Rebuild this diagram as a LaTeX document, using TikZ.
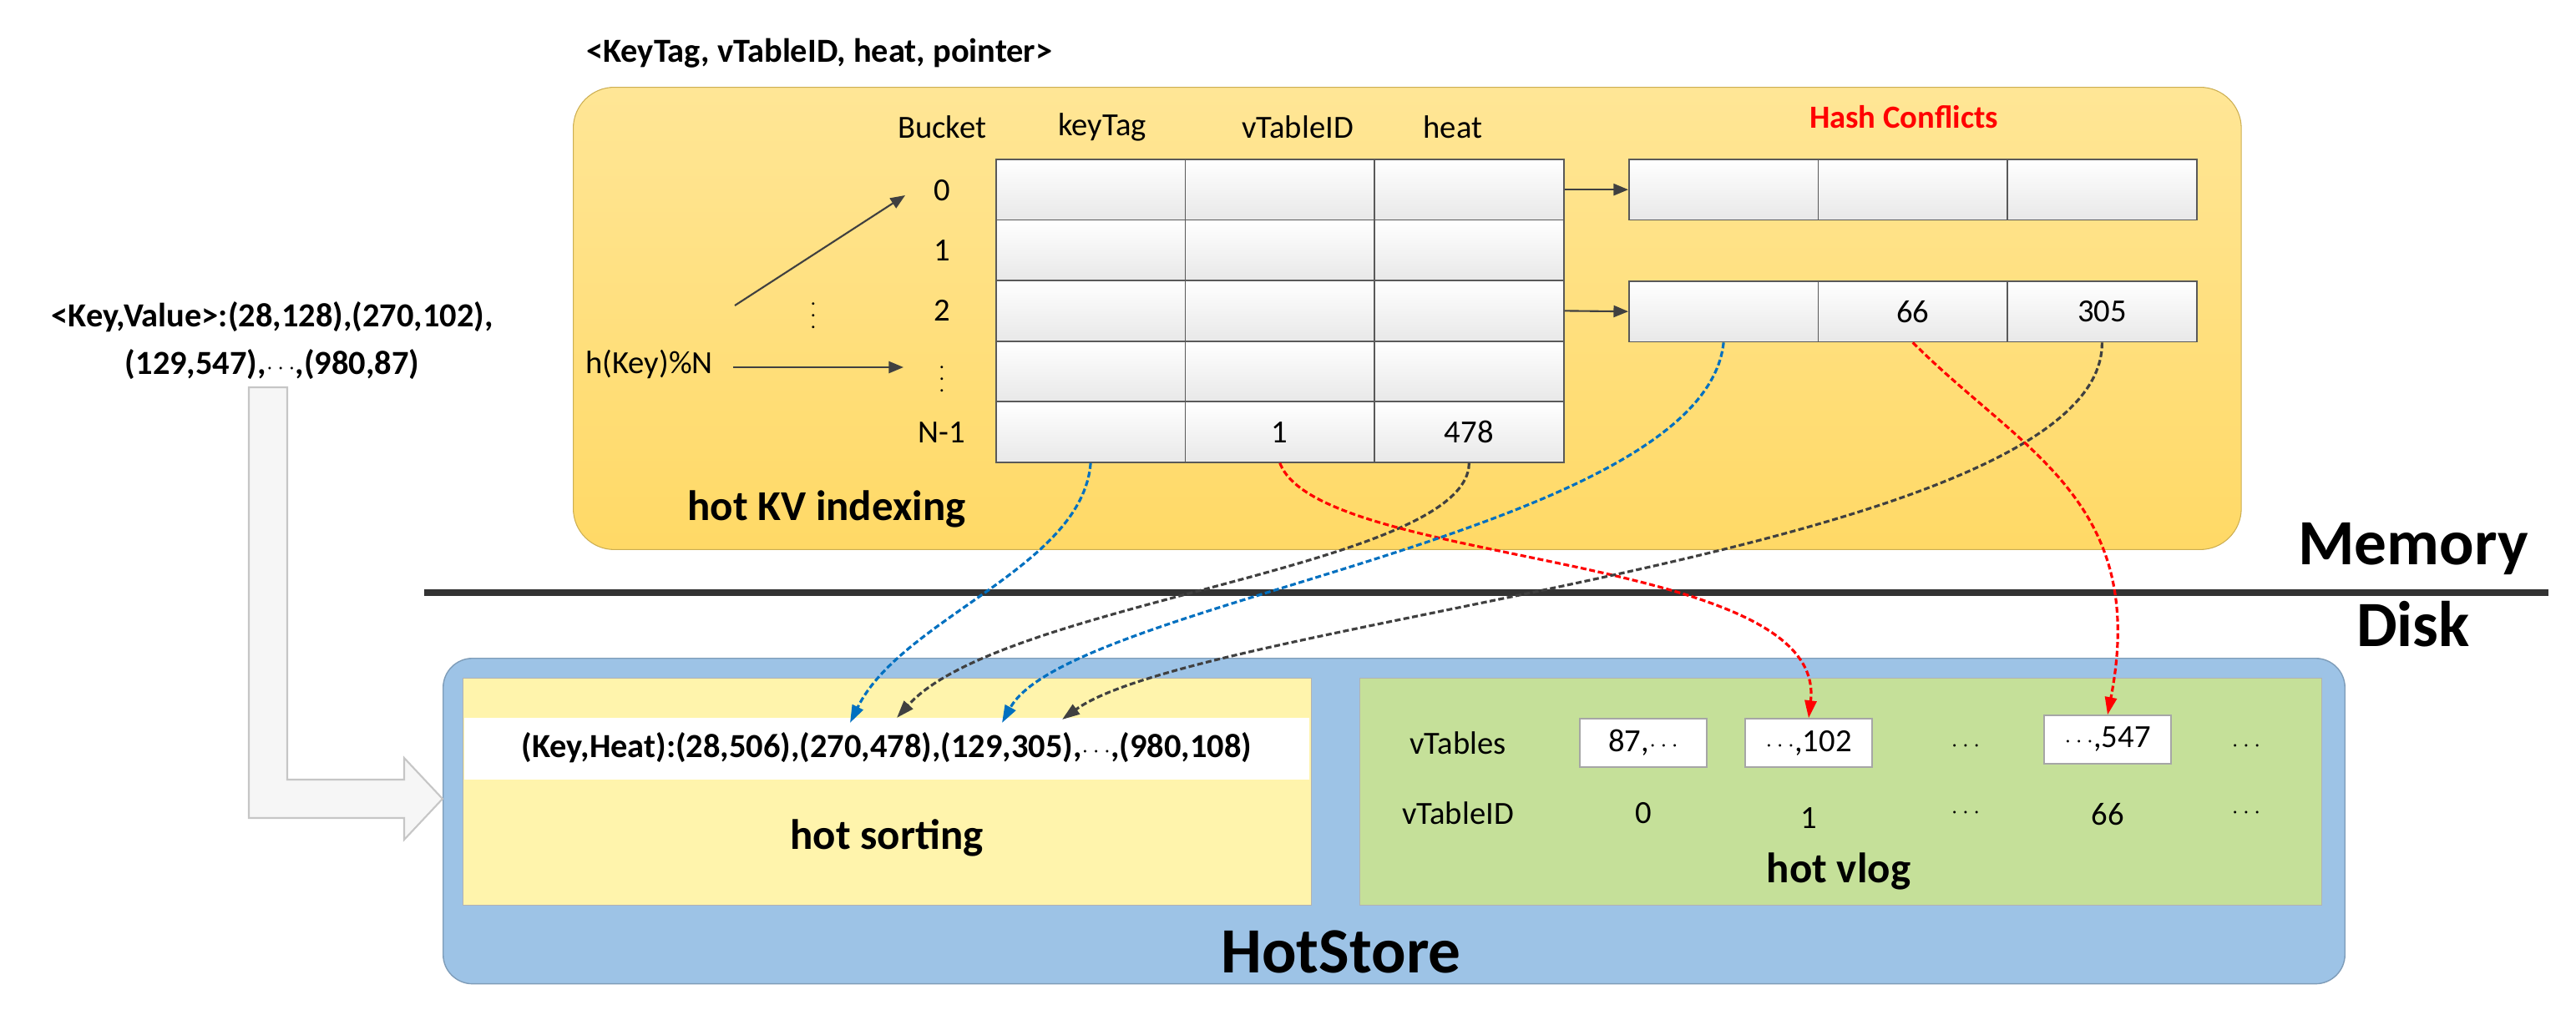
\documentclass[tikz,border=0pt]{standalone}
\usepackage{fontspec}
\setmainfont{Carlito}
\usetikzlibrary{arrows.meta}
\definecolor{yel}{RGB}{255,217,102}
\definecolor{yeltop}{RGB}{255,230,150}
\definecolor{blu}{RGB}{157,195,230}
\definecolor{lyel}{RGB}{255,244,172}
\definecolor{grn}{RGB}{197,224,153}
\definecolor{dblue}{RGB}{0,112,192}
\definecolor{dgray}{RGB}{64,64,64}
\newcommand\mycds{{\fontsize{8}{8}\selectfont$\cdots$}}
\newcommand\myvds{{\fontsize{7}{7}\selectfont$\vdots$}}
\begin{document}
\begin{tikzpicture}[x=0.02cm,y=-0.02cm,
  sm/.style={font=\fontsize{11}{13}\selectfont},
  smb/.style={font=\fontsize{11.5}{14}\selectfont\bfseries},
  big/.style={font=\fontsize{14.5}{17}\selectfont\bfseries},
  huge/.style={font=\fontsize{22}{26}\selectfont\bfseries},
  cell/.style={draw=gray!70!black,line width=0.5pt,top color=white,bottom color=gray!18,minimum width=2.266cm,minimum height=0.726cm,inner sep=0pt,anchor=north west,sm},
  vbox/.style={draw=gray!70,fill=white,minimum width=1.52cm,minimum height=0.58cm,inner sep=0pt,sm},
  arr/.style={-{Triangle[length=5pt,width=4pt]},line width=0.6pt,draw=black!75},
  dsh/.style={-{Triangle[length=6pt,width=4pt]},line width=0.9pt,dash pattern=on 2pt off 1pt}]
\useasboundingbox (0,0) rectangle (1542.5,613.5);
% memory area
\node[smb,anchor=west] (title) at (345,32) {<KeyTag, vTableID, heat, pointer>};
\node[draw=yel!80!black,line width=0.3pt,rounded corners=14pt,top color=yeltop,bottom color=yel,minimum width=19.98cm,minimum height=5.54cm,anchor=north west] (mem) at (343,52) {};
\node[big] (kvlab) at (495,305) {hot KV indexing};
\node[sm] (hB) at (564,76) {Bucket};
\node[sm] (hK) at (660,76) {keyTag};
\node[sm] (hV) at (777,76) {vTableID};
\node[sm] (hH) at (870,76) {heat};
\node[font=\fontsize{11}{13}\selectfont\bfseries,text=red] (hc) at (1140,70) {Hash Conflicts};
\foreach \r in {0,...,4}{
  \foreach \c in {0,1,2}{
    \node[cell] (t-\r-\c) at ({596+113.3*\c},{95+36.3*\r}) {};
  }
}
\node[sm] at (t-4-1) {1};
\node[sm] at (t-4-2) {478};
\node[sm] (b0) at (564,114) {0};
\node[sm] (b1) at (564,150) {1};
\node[sm] (b2) at (564,186) {2};
\node[inner sep=0pt] (b3) at (564,222) {\myvds};
\node[sm] (b4) at (564,259) {N-1};
\node[inner sep=0pt] (vd) at (487,184) {\myvds};
\node[sm,anchor=east] (hk) at (433,218) {h(Key)\%N};
\coordinate (src) at (440,183);
\draw[arr] (src) -- (542,117);
\draw[arr] (hk.east) ++(6,2) -- (541,220);
\foreach \r/\y in {0/95,2/168}{
  \foreach \c in {0,1,2}{
    \node[cell] (h\r-\c) at ({975+113.3*\c},\y) {};
  }
  \draw[arr] (t-\r-2.east) -- (h\r-0.west);
}
\node[sm] at (h2-1) {66};
\node[sm] at (h2-2) {305};
% key value text
\node[smb,align=center] (kv) at (163,204) {<Key,Value>:(28,128),(270,102),\\[2pt](129,547),\mycds,(980,87)};
% divider
\draw[line width=2pt,draw=black!80] (254,355) -- (1526,355);
\node[huge] (memt) at (1445,329) {Memory};
\node[huge] (disk) at (1445,374) {Disk};
% hotstore
\node[draw=blu!80!black,line width=0.4pt,rounded corners=10pt,fill=blu,minimum width=22.78cm,minimum height=3.9cm,anchor=north west] (hs) at (265,394) {};
\node[huge] (hst) at (803,570) {HotStore};
\node[draw=gray!60,fill=lyel,minimum width=10.16cm,minimum height=2.72cm,anchor=north west,inner sep=0pt] (sortb) at (277,406) {};
\fill[white] (278,430) rectangle (784,467);
\node[smb] (kh) at (531,448) {(Key,Heat):(28,506),(270,478),(129,305),\mycds,(980,108)};
\node[big] (sortl) at (531,502) {hot sorting};
\node[draw=gray!60,fill=grn,minimum width=11.52cm,minimum height=2.72cm,anchor=north west,inner sep=0pt] (vlogb) at (814,406) {};
\node[big] (vlogl) at (1101,522) {hot vlog};
\node[sm] (vt) at (873,445) {vTables};
\node[sm] (vid) at (873,487) {vTableID};
\node[vbox] (v0) at (984,445) {87,\mycds};
\node[vbox] (v1) at (1083,445) {\mycds,102};
\node[sm] (vd1) at (1177,447) {\mycds};
\node[vbox] (v66) at (1262,443) {\mycds,547};
\node[sm] (vd2) at (1345,447) {\mycds};
\node[sm] (i0) at (984,487) {0};
\node[sm] (i1) at (1083,490) {1};
\node[sm] (i2) at (1177,487) {\mycds};
\node[sm] (i66) at (1262,488) {66};
\node[sm] (i3) at (1345,487) {\mycds};
% big gray arrow
\draw[draw=gray!45,fill=gray!7,line width=0.6pt] (149,232) -- (172,232) -- (172,467) -- (242,467) -- (242,454) -- (265,478.5) -- (242,503) -- (242,490) -- (149,490) -- cycle;
% dashed connectors
\coordinate (k28) at (509,433);
\coordinate (k270) at (537,430);
\coordinate (k129) at (600,433);
\coordinate (k305) at (636,431);
\draw[dsh,dblue] (t-4-0.south) .. controls (648,340) and (540,370) .. (k28);
\draw[dsh,dgray] (t-4-2.south) .. controls (879,340) and (600,360) .. (k270);
\draw[dsh,red] (t-4-1.south) .. controls (790,340) and (1095,330) .. (v1.north);
\draw[dsh,dblue] (h2-0.south) .. controls (1020,320) and (640,360) .. (k129);
\draw[dsh,dgray] (h2-2.south) .. controls (1260,330) and (720,370) .. (k305);
\draw[dsh,red] (h2-1.south) .. controls (1210,270) and (1287,300) .. (v66.north);
\end{tikzpicture}
\end{document}
